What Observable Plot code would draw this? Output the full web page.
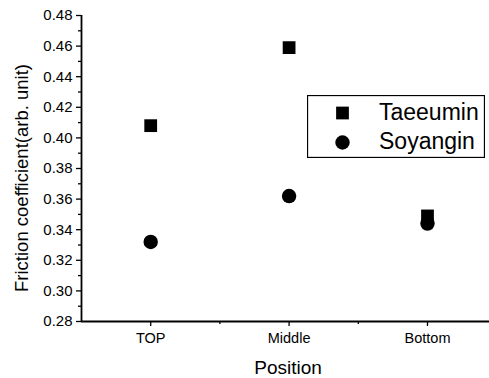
<!DOCTYPE html>
<html>
<head>
<meta charset="utf-8">
<script src="https://cdn.jsdelivr.net/npm/d3@7"></script>
<script src="https://cdn.jsdelivr.net/npm/@observablehq/plot@0.6"></script>
<style>
  html, body { margin: 0; padding: 0; background: #fff; }
  #chart { position: relative; width: 489px; height: 378px; font-family: "Liberation Sans", Arial, sans-serif; }
</style>
</head>
<body>
<div id="chart"></div>
<script>
// ---- data ----
const positions = ["TOP", "Middle", "Bottom"];
const seriesNames = ["Taeeumin", "Soyangin"];
const seriesSymbols = ["square", "circle"];
const taeeumin = [0.408, 0.459, 0.349];
const soyangin = [0.332, 0.362, 0.344];
const yMajorTicks = [0.28, 0.30, 0.32, 0.34, 0.36, 0.38, 0.40, 0.42, 0.44, 0.46, 0.48];
const yMinorTicks = [0.29, 0.31, 0.33, 0.35, 0.37, 0.39, 0.41, 0.43, 0.45, 0.47];
const xMajorTicks = [1, 2, 3];
const xMinorTicks = [1.5, 2.5];
const xDomain = [0.5, 3.448];
const yDomain = [0.28, 0.48];
const xTitle = "Position";
const yTitle = "Friction coefficient(arb. unit)";

const rows = [];
positions.forEach((p, i) => {
  rows.push({pos: i + 1, value: taeeumin[i], series: seriesNames[0]});
  rows.push({pos: i + 1, value: soyangin[i], series: seriesNames[1]});
});

const plot = Plot.plot({
  width: 489,
  height: 378,
  marginLeft: 81,
  marginRight: 0,
  marginTop: 15,
  marginBottom: 57,
  style: {fontFamily: "'Liberation Sans', Arial, sans-serif", color: "#000", background: "transparent", overflow: "visible"},
  x: {domain: xDomain, label: null},
  y: {domain: yDomain, label: null},
  symbol: {domain: seriesNames, range: seriesSymbols},
  marks: [
    Plot.axisY({ticks: yMinorTicks, tickSize: 3, tickFormat: () => "", strokeWidth: 1.3, label: null}),
    Plot.axisY({ticks: yMajorTicks, tickSize: 5, tickPadding: 4, tickFormat: d => d.toFixed(2), fontSize: 15, strokeWidth: 1.3, label: null}),
    Plot.axisX({ticks: xMinorTicks, tickSize: 3, tickFormat: () => "", strokeWidth: 1.3, label: null}),
    Plot.axisX({ticks: xMajorTicks, tickSize: 5, tickPadding: 6, tickFormat: d => positions[d - 1], fontSize: 14.5, strokeWidth: 1.3, label: null}),
    Plot.ruleX([xDomain[0]], {y1: yDomain[0], y2: yDomain[1], stroke: "#000", strokeWidth: 1.8}),
    Plot.ruleY([yDomain[0]], {x1: xDomain[0], x2: xDomain[1], stroke: "#000", strokeWidth: 1.8}),
    Plot.dot(rows, {x: "pos", y: "value", symbol: "series", fill: "#000", stroke: "none", r: 7.2}),
    Plot.text([yTitle], {frameAnchor: "left", textAnchor: "middle", rotate: -90, dx: -59.5, dy: 9.5, fontSize: 18.5, fill: "#000"}),
    Plot.text([xTitle], {frameAnchor: "bottom", lineAnchor: "bottom", dy: 52, dx: 2.5, fontSize: 19, fill: "#000"})
  ]
});
const chart = document.getElementById("chart");
chart.appendChild(plot);

// ---- legend (inside plot area) ----
const lw = 178, lh = 63;
const legend = d3.create("svg")
  .attr("width", lw)
  .attr("height", lh)
  .style("position", "absolute")
  .style("left", "307px")
  .style("top", "95px");
legend.append("rect")
  .attr("x", 0.5).attr("y", 0.5).attr("width", lw - 1).attr("height", lh - 1)
  .attr("fill", "#fff").attr("stroke", "#000").attr("stroke-width", 1.3);
const symMap = {square: d3.symbolSquare, circle: d3.symbolCircle};
seriesNames.forEach((name, i) => {
  const cy = 18 + i * 29.5;
  legend.append("path")
    .attr("transform", `translate(35.5,${cy})`)
    .attr("d", d3.symbol(symMap[seriesSymbols[i]], Math.PI * 7.2 * 7.2)())
    .attr("fill", "#000");
  legend.append("text")
    .attr("x", 72)
    .attr("y", cy + 6.5)
    .attr("font-size", 23)
    .attr("font-family", "'Liberation Sans', Arial, sans-serif")
    .attr("fill", "#000")
    .text(name);
});
chart.appendChild(legend.node());
</script>
</body>
</html>
